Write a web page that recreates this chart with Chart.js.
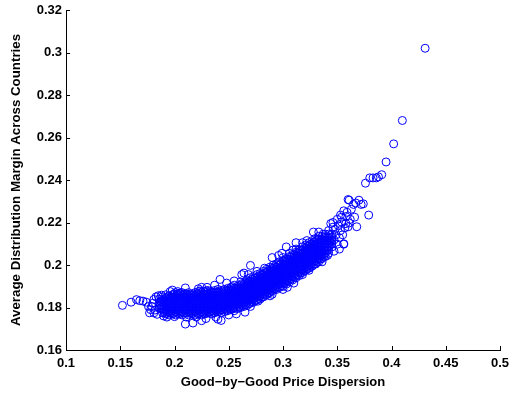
<!DOCTYPE html>
<html>
<head>
<meta charset="utf-8">
<script src="https://cdn.jsdelivr.net/npm/chart.js@4"></script>
<style>
  body { margin: 0; background: #fff; }
  #wrap { width: 509px; height: 394px; }
</style>
</head>
<body>
<div id="wrap"><canvas id="scatter" width="509" height="394"></canvas></div>
<script>
// axis ticks
var xTicks = [0.1, 0.15, 0.2, 0.25, 0.3, 0.35, 0.4, 0.45, 0.5];
var yTicks = [0.16, 0.18, 0.2, 0.22, 0.24, 0.26, 0.28, 0.3, 0.32];

// sparse points on the low-dispersion end
var leftTail = [
    [0.152, 0.181], [0.160, 0.1825], [0.165, 0.1837], [0.168, 0.1832], [0.171, 0.183],
    [0.174, 0.1825], [0.176, 0.1805], [0.178, 0.179], [0.177, 0.1775], [0.180, 0.182],
    [0.181, 0.1775], [0.183, 0.185], [0.185, 0.1855], [0.188, 0.1858], [0.184, 0.1768],
    [0.190, 0.176], [0.193, 0.1755], [0.196, 0.1875], [0.198, 0.1882], [0.200, 0.1757],
    [0.203, 0.1875], [0.205, 0.1868], [0.179, 0.1805], [0.181, 0.1838], [0.182, 0.1788]
];

// dense core of the cloud, one column per x value
var coreColumns = [
    [0.186, [0.1795, 0.181, 0.1825, 0.184]],
    [0.189, [0.1775, 0.179, 0.1805, 0.182, 0.1835, 0.185]],
    [0.192, [0.177, 0.1785, 0.180, 0.1815, 0.183, 0.1845, 0.186]],
    [0.195, [0.1765, 0.178, 0.1795, 0.181, 0.1825, 0.184, 0.1855]],
    [0.198, [0.177, 0.1785, 0.180, 0.1815, 0.183, 0.1845, 0.186]],
    [0.201, [0.1765, 0.178, 0.1795, 0.181, 0.1825, 0.184, 0.1855, 0.187]],
    [0.204, [0.177, 0.1785, 0.180, 0.1815, 0.183, 0.1845, 0.186]],
    [0.207, [0.1765, 0.178, 0.1795, 0.181, 0.1825, 0.184, 0.1855, 0.187]],
    [0.210, [0.1775, 0.179, 0.1805, 0.182, 0.1835, 0.185, 0.1865]],
    [0.213, [0.1765, 0.178, 0.1795, 0.181, 0.1825, 0.184, 0.1855, 0.187]],
    [0.216, [0.177, 0.1785, 0.180, 0.1815, 0.183, 0.1845, 0.186]],
    [0.219, [0.1765, 0.178, 0.1795, 0.181, 0.1825, 0.184, 0.1855, 0.187]],
    [0.222, [0.177, 0.1785, 0.180, 0.1815, 0.183, 0.1845, 0.186, 0.1875]],
    [0.225, [0.1765, 0.178, 0.1795, 0.181, 0.1825, 0.184, 0.1855, 0.187]],
    [0.228, [0.177, 0.1785, 0.180, 0.1815, 0.183, 0.1845, 0.186, 0.1875]],
    [0.231, [0.1775, 0.179, 0.1805, 0.182, 0.1835, 0.185, 0.1865, 0.188]],
    [0.234, [0.177, 0.1785, 0.180, 0.1815, 0.183, 0.1845, 0.186, 0.1875]],
    [0.237, [0.1775, 0.179, 0.1805, 0.182, 0.1835, 0.185, 0.1865, 0.188]],
    [0.240, [0.178, 0.1795, 0.181, 0.1825, 0.184, 0.1855, 0.187, 0.1885]],
    [0.243, [0.1775, 0.179, 0.1805, 0.182, 0.1835, 0.185, 0.1865, 0.188]],
    [0.246, [0.178, 0.1795, 0.181, 0.1825, 0.184, 0.1855, 0.187, 0.1885]],
    [0.249, [0.1785, 0.180, 0.1815, 0.183, 0.1845, 0.186, 0.1875, 0.189]],
    [0.252, [0.179, 0.1805, 0.182, 0.1835, 0.185, 0.1865, 0.188, 0.1895]],
    [0.255, [0.1785, 0.180, 0.1815, 0.183, 0.1845, 0.186, 0.1875, 0.189, 0.1905]],
    [0.258, [0.1795, 0.181, 0.1825, 0.184, 0.1855, 0.187, 0.1885, 0.190]],
    [0.261, [0.180, 0.1815, 0.183, 0.1845, 0.186, 0.1875, 0.189, 0.1905, 0.192]],
    [0.264, [0.1805, 0.182, 0.1835, 0.185, 0.1865, 0.188, 0.1895, 0.191]],
    [0.267, [0.181, 0.1825, 0.184, 0.1855, 0.187, 0.1885, 0.190, 0.1915, 0.193]],
    [0.270, [0.182, 0.1835, 0.185, 0.1865, 0.188, 0.1895, 0.191, 0.1925, 0.194]],
    [0.273, [0.1825, 0.184, 0.1855, 0.187, 0.1885, 0.190, 0.1915, 0.193, 0.1945]],
    [0.276, [0.1835, 0.185, 0.1865, 0.188, 0.1895, 0.191, 0.1925, 0.194, 0.1955]],
    [0.279, [0.184, 0.1855, 0.187, 0.1885, 0.190, 0.1915, 0.193, 0.1945, 0.196]],
    [0.282, [0.185, 0.1865, 0.188, 0.1895, 0.191, 0.1925, 0.194, 0.1955, 0.197]],
    [0.285, [0.186, 0.1875, 0.189, 0.1905, 0.192, 0.1935, 0.195, 0.1965, 0.198]],
    [0.288, [0.187, 0.1885, 0.190, 0.1915, 0.193, 0.1945, 0.196, 0.1975, 0.199]],
    [0.291, [0.188, 0.1895, 0.191, 0.1925, 0.194, 0.1955, 0.197, 0.1985, 0.200]],
    [0.294, [0.1885, 0.190, 0.1915, 0.193, 0.1945, 0.196, 0.1975, 0.199, 0.2005]],
    [0.297, [0.1895, 0.191, 0.1925, 0.194, 0.1955, 0.197, 0.1985, 0.200, 0.2015]],
    [0.300, [0.190, 0.1915, 0.193, 0.1945, 0.196, 0.1975, 0.199, 0.2005, 0.202, 0.2035]],
    [0.303, [0.191, 0.1925, 0.194, 0.1955, 0.197, 0.1985, 0.200, 0.2015, 0.203]],
    [0.306, [0.192, 0.1935, 0.195, 0.1965, 0.198, 0.1995, 0.201, 0.2025, 0.204, 0.2055]],
    [0.309, [0.193, 0.1945, 0.196, 0.1975, 0.199, 0.2005, 0.202, 0.2035, 0.205]],
    [0.312, [0.194, 0.1955, 0.197, 0.1985, 0.200, 0.2015, 0.203, 0.2045, 0.206, 0.2075]],
    [0.315, [0.195, 0.1965, 0.198, 0.1995, 0.201, 0.2025, 0.204, 0.2055, 0.207]],
    [0.318, [0.1965, 0.198, 0.1995, 0.201, 0.2025, 0.204, 0.2055, 0.207, 0.2085]],
    [0.321, [0.1975, 0.199, 0.2005, 0.202, 0.2035, 0.205, 0.2065, 0.208, 0.2095]],
    [0.324, [0.1985, 0.200, 0.2015, 0.203, 0.2045, 0.206, 0.2075, 0.209, 0.2105]],
    [0.327, [0.1995, 0.201, 0.2025, 0.204, 0.2055, 0.207, 0.2085, 0.210, 0.2115]],
    [0.330, [0.2005, 0.202, 0.2035, 0.205, 0.2065, 0.208, 0.2095, 0.211, 0.2125]],
    [0.333, [0.2015, 0.203, 0.2045, 0.206, 0.2075, 0.209, 0.2105, 0.212, 0.2135]],
    [0.336, [0.203, 0.2045, 0.206, 0.2075, 0.209, 0.2105, 0.212, 0.2135]],
    [0.339, [0.204, 0.2055, 0.207, 0.2085, 0.210, 0.2115, 0.213, 0.2145]],
    [0.342, [0.2055, 0.207, 0.2085, 0.210, 0.2115, 0.213, 0.2145]],
    [0.345, [0.2085, 0.210, 0.2115, 0.213, 0.2145]]
];

// more core points lying between the columns above
var coreFill = [
    [0.1875, [0.1798, 0.1813, 0.1828]],
    [0.1905, [0.1778, 0.1793, 0.1808, 0.1823, 0.1838]],
    [0.1935, [0.1773, 0.1788, 0.1803, 0.1818, 0.1833, 0.1848]],
    [0.1965, [0.1773, 0.1788, 0.1803, 0.1818, 0.1833, 0.1848]],
    [0.1995, [0.1773, 0.1788, 0.1803, 0.1818, 0.1833, 0.1848, 0.1863]],
    [0.2025, [0.1773, 0.1788, 0.1803, 0.1818, 0.1833, 0.1848, 0.1863]],
    [0.2055, [0.1773, 0.1788, 0.1803, 0.1818, 0.1833, 0.1848, 0.1863]],
    [0.2085, [0.1773, 0.1788, 0.1803, 0.1818, 0.1833, 0.1848, 0.1863]],
    [0.2115, [0.1773, 0.1788, 0.1803, 0.1818, 0.1833, 0.1848, 0.1863]],
    [0.2145, [0.1773, 0.1788, 0.1803, 0.1818, 0.1833, 0.1848, 0.1863]],
    [0.2175, [0.1773, 0.1788, 0.1803, 0.1818, 0.1833, 0.1848, 0.1863]],
    [0.2205, [0.1773, 0.1788, 0.1803, 0.1818, 0.1833, 0.1848, 0.1863]],
    [0.2235, [0.1773, 0.1788, 0.1803, 0.1818, 0.1833, 0.1848, 0.1863, 0.1878]],
    [0.2265, [0.1773, 0.1788, 0.1803, 0.1818, 0.1833, 0.1848, 0.1863, 0.1878]],
    [0.2295, [0.1773, 0.1788, 0.1803, 0.1818, 0.1833, 0.1848, 0.1863, 0.1878]],
    [0.2325, [0.1778, 0.1793, 0.1808, 0.1823, 0.1838, 0.1853, 0.1868]],
    [0.2355, [0.1778, 0.1793, 0.1808, 0.1823, 0.1838, 0.1853, 0.1868]],
    [0.2385, [0.1783, 0.1798, 0.1813, 0.1828, 0.1843, 0.1858, 0.1873]],
    [0.2415, [0.1783, 0.1798, 0.1813, 0.1828, 0.1843, 0.1858, 0.1873]],
    [0.2445, [0.1788, 0.1803, 0.1818, 0.1833, 0.1848, 0.1863, 0.1878]],
    [0.2475, [0.1788, 0.1803, 0.1818, 0.1833, 0.1848, 0.1863, 0.1878]],
    [0.2505, [0.1793, 0.1808, 0.1823, 0.1838, 0.1853, 0.1868, 0.1883]],
    [0.2535, [0.1793, 0.1808, 0.1823, 0.1838, 0.1853, 0.1868, 0.1883, 0.1898]],
    [0.2565, [0.1798, 0.1813, 0.1828, 0.1843, 0.1858, 0.1873, 0.1888]],
    [0.2595, [0.1803, 0.1818, 0.1833, 0.1848, 0.1863, 0.1878, 0.1893]],
    [0.2625, [0.1808, 0.1823, 0.1838, 0.1853, 0.1868, 0.1883, 0.1898, 0.1913]],
    [0.2655, [0.1813, 0.1828, 0.1843, 0.1858, 0.1873, 0.1888, 0.1903, 0.1918]],
    [0.2685, [0.1818, 0.1833, 0.1848, 0.1863, 0.1878, 0.1893, 0.1908, 0.1923]],
    [0.2715, [0.1828, 0.1843, 0.1858, 0.1873, 0.1888, 0.1903, 0.1918, 0.1933]],
    [0.2745, [0.1833, 0.1848, 0.1863, 0.1878, 0.1893, 0.1908, 0.1923, 0.1938]],
    [0.2775, [0.1843, 0.1858, 0.1873, 0.1888, 0.1903, 0.1918, 0.1933, 0.1948]],
    [0.2805, [0.1848, 0.1863, 0.1878, 0.1893, 0.1908, 0.1923, 0.1938, 0.1953]],
    [0.2835, [0.1858, 0.1873, 0.1888, 0.1903, 0.1918, 0.1933, 0.1948, 0.1963]],
    [0.2865, [0.1868, 0.1883, 0.1898, 0.1913, 0.1928, 0.1943, 0.1958, 0.1973]],
    [0.2895, [0.1878, 0.1893, 0.1908, 0.1923, 0.1938, 0.1953, 0.1968, 0.1983]],
    [0.2925, [0.1888, 0.1903, 0.1918, 0.1933, 0.1948, 0.1963, 0.1978, 0.1993]],
    [0.2955, [0.1893, 0.1908, 0.1923, 0.1938, 0.1953, 0.1968, 0.1983, 0.1998]],
    [0.2985, [0.1903, 0.1918, 0.1933, 0.1948, 0.1963, 0.1978, 0.1993, 0.2008]],
    [0.3015, [0.1913, 0.1928, 0.1943, 0.1958, 0.1973, 0.1988, 0.2003, 0.2018]],
    [0.3045, [0.1923, 0.1938, 0.1953, 0.1968, 0.1983, 0.1998, 0.2013, 0.2028]],
    [0.3075, [0.1933, 0.1948, 0.1963, 0.1978, 0.1993, 0.2008, 0.2023, 0.2038]],
    [0.3105, [0.1943, 0.1958, 0.1973, 0.1988, 0.2003, 0.2018, 0.2033, 0.2048]],
    [0.3135, [0.1953, 0.1968, 0.1983, 0.1998, 0.2013, 0.2028, 0.2043, 0.2058]],
    [0.3165, [0.1963, 0.1978, 0.1993, 0.2008, 0.2023, 0.2038, 0.2053, 0.2068]],
    [0.3195, [0.1973, 0.1988, 0.2003, 0.2018, 0.2033, 0.2048, 0.2063, 0.2078]],
    [0.3225, [0.1983, 0.1998, 0.2013, 0.2028, 0.2043, 0.2058, 0.2073, 0.2088]],
    [0.3255, [0.1993, 0.2008, 0.2023, 0.2038, 0.2053, 0.2068, 0.2083, 0.2098]],
    [0.3285, [0.2003, 0.2018, 0.2033, 0.2048, 0.2063, 0.2078, 0.2093, 0.2108]],
    [0.3315, [0.2013, 0.2028, 0.2043, 0.2058, 0.2073, 0.2088, 0.2103, 0.2118]],
    [0.3345, [0.2028, 0.2043, 0.2058, 0.2073, 0.2088, 0.2103, 0.2118]],
    [0.3375, [0.2038, 0.2053, 0.2068, 0.2083, 0.2098, 0.2113, 0.2128]],
    [0.3405, [0.2068, 0.2083, 0.2098, 0.2113, 0.2128]],
    [0.3435, [0.2093, 0.2108, 0.2123, 0.2138]]
];

// loose points along the lower edge
var lowerEdge = [
    [0.210, 0.1722], [0.217, 0.1727], [0.211, 0.1755], [0.225, 0.1738], [0.220, 0.1755],
    [0.229, 0.1748], [0.240, 0.1745], [0.243, 0.1739], [0.238, 0.1755], [0.250, 0.1765],
    [0.265, 0.1778], [0.257, 0.177], [0.270, 0.1805], [0.277, 0.183], [0.288, 0.1855],
    [0.290, 0.1862], [0.300, 0.1885], [0.304, 0.1895], [0.310, 0.1915], [0.318, 0.1955],
    [0.324, 0.1975], [0.330, 0.2005], [0.336, 0.2015], [0.341, 0.2045], [0.347, 0.2065],
    [0.352, 0.2075], [0.356, 0.2098]
];

// loose points along the upper edge
var upperEdge = [
    [0.210, 0.1892], [0.222, 0.1888], [0.225, 0.1895], [0.230, 0.1895], [0.237, 0.1905],
    [0.242, 0.1932], [0.248, 0.1915], [0.255, 0.1925], [0.262, 0.1955], [0.264, 0.1962],
    [0.270, 0.1998], [0.268, 0.1955], [0.276, 0.197], [0.283, 0.1985], [0.290, 0.2035],
    [0.296, 0.2045], [0.299, 0.2055], [0.303, 0.2085], [0.309, 0.207], [0.312, 0.2105],
    [0.318, 0.2105], [0.322, 0.2115], [0.328, 0.2155], [0.333, 0.2155], [0.337, 0.2145],
    [0.342, 0.2162], [0.344, 0.2195], [0.346, 0.220], [0.350, 0.2215], [0.353, 0.2235],
    [0.356, 0.2255], [0.358, 0.2228], [0.360, 0.2308], [0.361, 0.2305], [0.363, 0.2262],
    [0.365, 0.2285], [0.367, 0.2292], [0.370, 0.2305], [0.372, 0.2285], [0.374, 0.2288],
    [0.366, 0.2225], [0.368, 0.218], [0.358, 0.2195], [0.356, 0.210], [0.360, 0.218],
    [0.362, 0.2215]
];

// scattered points where the cloud thins out on the right
var rightEdge = [
    [0.347, 0.2118], [0.349, 0.2142], [0.348, 0.2168], [0.350, 0.2098], [0.351, 0.2185],
    [0.352, 0.2128], [0.353, 0.2162], [0.354, 0.2202], [0.355, 0.2142], [0.357, 0.2175],
    [0.359, 0.2248], [0.354, 0.2225], [0.361, 0.2198], [0.346, 0.2178]
];

// high-dispersion tail
var rightTail = [
    [0.376, 0.2385], [0.379, 0.2235], [0.380, 0.241], [0.383, 0.241], [0.386, 0.241],
    [0.388, 0.2415], [0.391, 0.2425], [0.395, 0.2485], [0.402, 0.257], [0.410, 0.268],
    [0.431, 0.302]
];

var points = [];
function addPairs(list) {
    list.forEach(function (p) { points.push({ x: p[0], y: p[1] }); });
}
function addColumns(list) {
    list.forEach(function (col) {
        col[1].forEach(function (y) { points.push({ x: col[0], y: y }); });
    });
}
addPairs(leftTail);
addColumns(coreColumns);
addColumns(coreFill);
addPairs(lowerEdge);
addPairs(upperEdge);
addPairs(rightEdge);
addPairs(rightTail);

function fmt(v) {
    return String(Number(v.toFixed(2)));
}

// MATLAB-style inward tick marks
var inwardTicks = {
    id: 'inwardTicks',
    afterDraw: function (chart) {
        var ctx = chart.ctx;
        var area = chart.chartArea;
        var xs = chart.scales.x, ys = chart.scales.y;
        ctx.save();
        ctx.strokeStyle = '#000';
        ctx.lineWidth = 1;
        ctx.beginPath();
        xTicks.forEach(function (v) {
            var px = Math.round(xs.getPixelForValue(v)) + 0.5;
            ctx.moveTo(px, area.bottom);
            ctx.lineTo(px, area.bottom - 4);
        });
        yTicks.forEach(function (v) {
            var py = Math.round(ys.getPixelForValue(v)) + 0.5;
            ctx.moveTo(area.left, py);
            ctx.lineTo(area.left + 4, py);
        });
        ctx.stroke();
        ctx.restore();
    }
};

var family = 'Liberation Sans, Arial, Helvetica, sans-serif';
var tickFont = { family: family, size: 13, weight: 'bold' };

var ctx = document.getElementById('scatter').getContext('2d');
var chart = new Chart(ctx, {
    type: 'scatter',
    data: {
        datasets: [{
            data: points,
            showLine: false,
            pointStyle: 'circle',
            pointRadius: 4,
            pointHoverRadius: 4,
            borderWidth: 1,
            borderColor: '#0000ff',
            backgroundColor: 'rgba(0,0,0,0)'
        }]
    },
    options: {
        responsive: false,
        animation: false,
        events: [],
        layout: { padding: { top: 10, right: 9, left: 0, bottom: 0 } },
        plugins: {
            legend: { display: false },
            tooltip: { enabled: false }
        },
        scales: {
            x: {
                type: 'linear',
                min: 0.1,
                max: 0.5,
                afterBuildTicks: function (scale) {
                    scale.ticks = xTicks.map(function (v) { return { value: v }; });
                },
                afterFit: function (scale) {
                    scale.height = 44;
                    scale.paddingLeft = 0;
                    scale.paddingRight = 0;
                },
                grid: { display: false, drawTicks: false },
                border: { display: true, color: '#000', width: 1 },
                ticks: {
                    color: '#000',
                    font: tickFont,
                    padding: 6,
                    maxRotation: 0,
                    autoSkip: false,
                    callback: function (v) { return fmt(v); }
                },
                title: {
                    display: true,
                    text: 'Good\u2212by\u2212Good Price Dispersion',
                    color: '#000',
                    font: { family: family, size: 13, weight: 'bold' },
                    padding: { top: 0, bottom: 4 }
                }
            },
            y: {
                type: 'linear',
                min: 0.16,
                max: 0.32,
                afterBuildTicks: function (scale) {
                    scale.ticks = yTicks.map(function (v) { return { value: v }; });
                },
                afterFit: function (scale) {
                    scale.width = 66;
                    scale.paddingTop = 0;
                    scale.paddingBottom = 0;
                },
                grid: { display: false, drawTicks: false },
                border: { display: true, color: '#000', width: 1 },
                ticks: {
                    color: '#000',
                    font: tickFont,
                    padding: 4,
                    autoSkip: false,
                    callback: function (v) { return fmt(v); }
                },
                title: {
                    display: true,
                    text: 'Average Distribution Margin Across Countries',
                    color: '#000',
                    font: { family: family, size: 13.3, weight: 'bold' },
                    padding: { top: 8, bottom: 0 }
                }
            }
        }
    },
    plugins: [inwardTicks]
});
</script>
</body>
</html>
